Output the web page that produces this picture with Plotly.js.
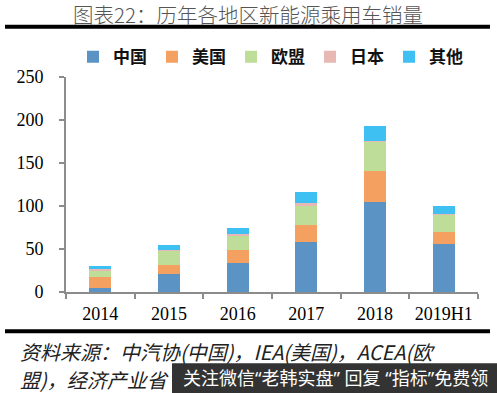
<!DOCTYPE html>
<html>
<head>
<meta charset="utf-8">
<script src="https://cdn.plot.ly/plotly-3.0.1.min.js"></script>
<style>
html,body{margin:0;padding:0;background:#fff;}
#chart{width:497px;height:393px;}
</style>
</head>
<body>
<div id="chart"></div>
<script>
// Data (unit: 万辆)
const years = ['2014', '2015', '2016', '2017', '2018', '2019H1'];
const seriesNames = ['中国', '美国', '欧盟', '日本', '其他'];
const china = [5, 21, 34, 58, 105, 56];
const usa = [12, 10.5, 15, 20, 36, 14];
const eu = [8, 16, 16.5, 22, 33, 20];
const japan = [1.5, 1.5, 2.5, 3, 2, 1];
const others = [3.5, 5.5, 6.5, 13, 17, 9];
const yTicks = [0, 50, 100, 150, 200, 250];

const seriesValues = [china, usa, eu, japan, others];
const colors = ['#5b93c4', '#f4a060', '#bedd98', '#e8b8b4', '#3fc0f2'];

const traces = seriesNames.map((name, i) => ({
  type: 'bar',
  name: name,
  x: years,
  y: seriesValues[i],
  marker: {color: colors[i]},
  hoverinfo: 'x+y+name'
}));

// pixel -> paper helpers (plot area: x 66..478, y 76.7..291.7)
const L = 66, R = 478, T = 76.7, B = 291.7;
const px = p => (p - L) / (R - L);
const py = p => (B - p) / (B - T);

const layout = {
  width: 497,
  height: 393,
  margin: {l: L, r: 497 - R, t: T, b: 393 - B, pad: 0},
  paper_bgcolor: '#ffffff',
  plot_bgcolor: '#ffffff',
  barmode: 'stack',
  bargap: 0.68,
  showlegend: true,
  legend: {
    orientation: 'h',
    traceorder: 'normal',
    x: px(73),
    xanchor: 'left',
    y: py(57),
    yanchor: 'middle',
    font: {family: 'Noto Sans CJK SC', size: 17, color: '#111', weight: 'bold'},
    bgcolor: 'rgba(0,0,0,0)',
    borderwidth: 0
  },
  xaxis: {
    type: 'category',
    showline: true,
    linecolor: '#8c8c8c',
    linewidth: 2,
    ticks: 'outside',
    tickson: 'boundaries',
    ticklen: 5,
    tickwidth: 2,
    tickcolor: '#8c8c8c',
    ticklabelstandoff: 4,
    showgrid: false,
    zeroline: false,
    tickfont: {family: 'Liberation Serif', size: 18, color: '#000'}
  },
  yaxis: {
    range: [0, 250],
    tickvals: yTicks,
    ticktext: yTicks.map(String),
    showline: true,
    linecolor: '#8c8c8c',
    linewidth: 2,
    ticks: 'outside',
    ticklen: 5,
    tickwidth: 2,
    tickcolor: '#8c8c8c',
    ticklabelstandoff: 12,
    showgrid: false,
    zeroline: false,
    tickfont: {family: 'Liberation Serif', size: 18, color: '#000'}
  },
  shapes: [
    {type: 'line', xref: 'paper', yref: 'paper', x0: px(5), x1: px(490), y0: py(26.5), y1: py(26.5),
     line: {color: '#000', width: 4}},
    {type: 'line', xref: 'paper', yref: 'paper', x0: px(5), x1: px(490), y0: py(331), y1: py(331),
     line: {color: '#000', width: 4}},
    {type: 'rect', xref: 'paper', yref: 'paper', layer: 'above', x0: px(172), x1: px(497), y0: py(363), y1: py(393),
     fillcolor: '#333333', line: {width: 0}}
  ],
  annotations: [
    {text: '图表22：历年各地区新能源乘用车销量', xref: 'paper', yref: 'paper',
     x: px(248), y: py(14), xanchor: 'center', yanchor: 'middle', showarrow: false,
     font: {family: 'Noto Sans CJK SC', size: 20.5, color: '#555', weight: 300}},
    {text: '<i>资料来源：中汽协(中国)，IEA(美国)，ACEA(欧</i>', xref: 'paper', yref: 'paper',
     x: px(18), y: py(351), xanchor: 'left', yanchor: 'middle', showarrow: false,
     font: {family: 'Noto Sans CJK SC', size: 20, color: '#222'}},
    {text: '<i>盟)，经济产业省</i>', xref: 'paper', yref: 'paper',
     x: px(18), y: py(379), xanchor: 'left', yanchor: 'middle', showarrow: false,
     font: {family: 'Noto Sans CJK SC', size: 20, color: '#222'}},
    {text: '关注微信“老韩实盘” 回复 “指标”免费领', xref: 'paper', yref: 'paper',
     x: px(181), y: py(378), xanchor: 'left', yanchor: 'middle', showarrow: false,
     font: {family: 'Noto Sans, Noto Sans CJK SC', size: 18, color: '#ffffff'}}
  ]
};

Plotly.newPlot('chart', traces, layout, {displayModeBar: false, staticPlot: true});
</script>
</body>
</html>
